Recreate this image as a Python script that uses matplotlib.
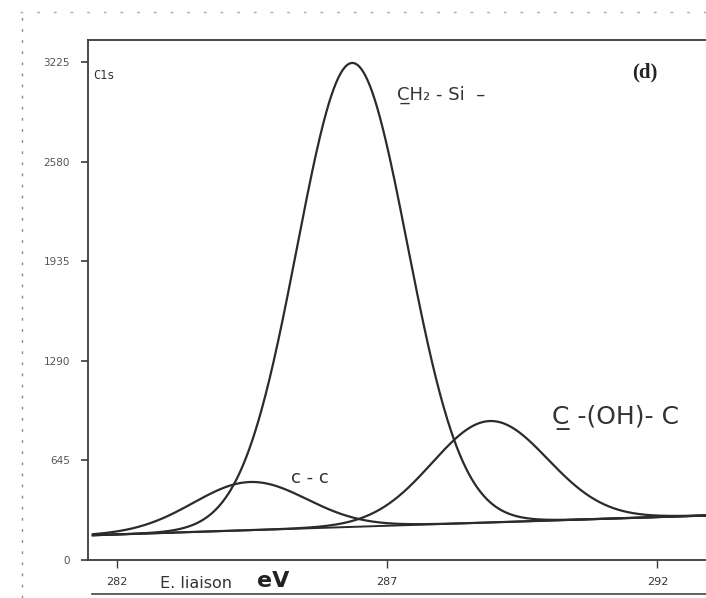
import numpy as np
import matplotlib
matplotlib.use("Agg")
import matplotlib.pyplot as plt
from matplotlib.lines import Line2D

# ---- data ----
peak_names = ["C-C", "CH2-Si", "C(OH)-C"]
peak_centers = [284.46, 286.35, 288.90]      # eV
peak_heights = [312, 3005, 657]              # counts above background
peak_sigmas = [1.05, 1.02, 1.07]             # eV
bg_energies = [281.69, 292.0]                # background line end points
bg_counts = [162, 278]
y_ticks = [0, 645, 1290, 1935, 2580, 3225]
y_ticklabels = ["0", "645", "1290", "1935", "2580", "3225"]
x_ticks = [282, 287, 292]
x_ticklabels = ["282", "287", "292"]

fig = plt.figure(figsize=(7.06, 5.98), dpi=100)
ax = fig.add_axes([88/706, 1-560/598, 1-88/706, (560-40)/598])
ax.set_xlim(281.46, 292.9)
ax.set_ylim(0, 3368)

E = np.linspace(281.55, 292.9, 800)
slope = (bg_counts[1]-bg_counts[0])/(bg_energies[1]-bg_energies[0])
bg = bg_counts[0] + slope*(E - bg_energies[0])
lc = "#2b2b2b"
ax.plot(E, bg, color=lc, lw=1.4)
for c, h, s in zip(peak_centers, peak_heights, peak_sigmas):
    ax.plot(E, bg + h*np.exp(-0.5*((E-c)/s)**2), color=lc, lw=1.6)

ax.spines["right"].set_visible(False)
for sp in ["left", "bottom", "top"]:
    ax.spines[sp].set_color("#3a3a3a")
    ax.spines[sp].set_linewidth(1.3)

ax.set_yticks(y_ticks)
ax.set_yticklabels(y_ticklabels, fontsize=7.5, family="DejaVu Sans")
ax.set_xticks(x_ticks)
ax.set_xticklabels(x_ticklabels, fontsize=8, family="DejaVu Sans")
ax.tick_params(axis="y", direction="out", length=5, width=1.2, pad=8, colors="#3a3a3a", labelcolor="#555555")
ax.tick_params(axis="x", direction="out", length=5.5, width=1.0, pad=7, colors="#3a3a3a", labelcolor="#333333")

# annotations
ax.text(0.008, 0.925, "C1s", transform=ax.transAxes, fontsize=8.5, family="DejaVu Sans Mono", color="#333333")
fig.text(645/706, 1-72/598, "(d)", ha="center", va="center", fontsize=15, fontweight="bold",
         family="Liberation Serif", color="#222222")
fig.text(397/706, 1-95/598, "C\u0332H\u2082 - Si  \u2013", ha="left", va="center", fontsize=13,
         color="#333333", family="DejaVu Sans")
fig.text(291/706, 1-478/598, "c - c", ha="left", va="center", fontsize=13, color="#333333", family="DejaVu Sans")
fig.text(552/706, 1-418/598, "C\u0332 -(OH)- C", ha="left", va="center", fontsize=18,
         color="#333333", family="DejaVu Sans")
fig.text(160/706, 1-584/598, "E. liaison", ha="left", va="center", fontsize=11.5, color="#333333",
         family="DejaVu Sans")
fig.text(257/706, 1-581/598, "eV", ha="left", va="center", fontsize=16, fontweight="bold", color="#222222",
         family="DejaVu Sans")

# scan frame lines
fig.add_artist(Line2D([92/706, 1], [1-594/598, 1-594/598], color="#444444", lw=1.2))
fig.add_artist(Line2D([22/706, 22/706], [0, 1-12/598], color="#888888", lw=1.0, ls=(0, (2, 6))))
fig.add_artist(Line2D([20/706, 1], [1-12/598, 1-12/598], color="#aaaaaa", lw=1.0, ls=(0, (2, 10))))

fig.savefig("out.png", dpi=100)
